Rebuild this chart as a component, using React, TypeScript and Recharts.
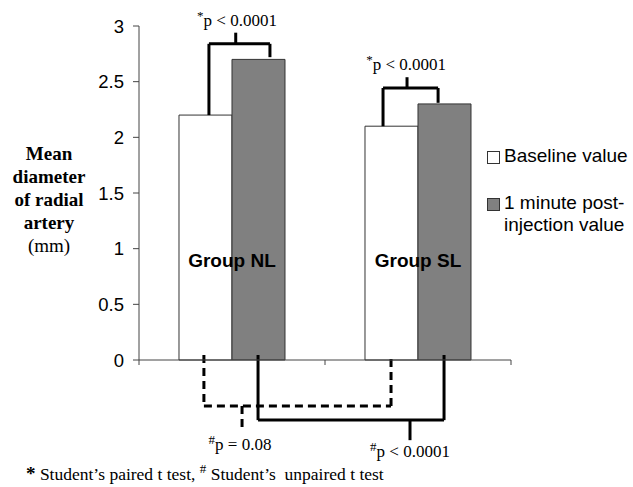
import React from 'react';
import { BarChart, Bar, XAxis, YAxis, Legend, ReferenceLine, ReferenceDot } from 'recharts';

const groups = ['NL', 'SL'];
const baselineValues = [2.2, 2.1];
const postValues = [2.7, 2.3];
const seriesNames = ['Baseline value', '1 minute post-injection value'];
const yTicks = [0, 0.5, 1, 1.5, 2, 2.5, 3];
const pLabels = ['p < 0.0001', 'p < 0.0001', 'p = 0.08', 'p < 0.0001'];

// groups sit at the middle of unit-wide slots on a 0..2 numeric axis
const data = groups.map((g, i) => ({ group: g, pos: i + 0.5, baseline: baselineValues[i], post: postValues[i] }));

// bracket geometry in data units
type Bracket = { x1: number; x2: number; y1: number; y2: number; top: number; mid: number; tick: number; dashed?: boolean; label: string; sym: string; lx: number; ly: number };
const brackets: Bracket[] = [
  { x1: 0.376, x2: 0.704, y1: baselineValues[0], y2: 2.72, top: 2.84, mid: 0.52, tick: 2.94, label: pLabels[0], sym: '*', lx: 0.527, ly: 3.0 },
  { x1: 1.312, x2: 1.608, y1: baselineValues[1], y2: 2.31, top: 2.443, mid: 1.441, tick: 2.54, label: pLabels[1], sym: '*', lx: 1.436, ly: 2.605 },
  { x1: 0.349, x2: 1.355, y1: 0.045, y2: 0.045, top: -0.413, mid: 0.554, tick: -0.647, dashed: true, label: pLabels[2], sym: '#', lx: 0.543, ly: -0.808 },
  { x1: 0.64, x2: 1.64, y1: 0.045, y2: 0.045, top: -0.54, mid: 1.457, tick: -0.72, label: pLabels[3], sym: '#', lx: 1.457, ly: -0.871 },
];

const serif = '"Liberation Serif", "Times New Roman", serif';
const sans = '"Liberation Sans", Arial, sans-serif';

const renderLegend = () => (
  <div style={{ fontFamily: sans, fontSize: 19, color: '#000', lineHeight: '22px' }}>
    {seriesNames.map((name, i) => (
      <div key={name} style={{ display: 'flex', alignItems: 'flex-start', marginBottom: 25 }}>
        <span style={{ display: 'inline-block', width: 11, height: 11, border: '1px solid #333', background: i === 0 ? '#fff' : '#808080', marginTop: 6, marginRight: 4, flexShrink: 0 }} />
        <span style={{ width: 128 }}>{name}</span>
      </div>
    ))}
  </div>
);

export default function App() {
  return (
    <div style={{ position: 'absolute', left: 0, top: 0, width: 633, height: 487, background: '#fff' }}>
      <BarChart width={633} height={487} data={data} margin={{ top: 26, right: 122, bottom: 97, left: 79 }} barCategoryGap="21.5%" barGap={0}>
        <XAxis dataKey="pos" type="number" domain={[0, 2]} ticks={[0, 1, 2]} height={30} tickSize={5} tickFormatter={() => ''} stroke="#444" allowDataOverflow />
        <YAxis domain={[0, 3]} ticks={yTicks} width={60} tickSize={6} tickMargin={9} stroke="#444" tick={{ fill: '#000', fontSize: 18.5, fontFamily: sans }} />
        <Legend layout="vertical" align="center" verticalAlign="middle" content={renderLegend} wrapperStyle={{ left: 487, top: 145, width: 146 }} />
        <Bar dataKey="baseline" name={seriesNames[0]} fill="#fff" stroke="#333" strokeWidth={1} isAnimationActive={false} />
        <Bar dataKey="post" name={seriesNames[1]} fill="#808080" stroke="#333" strokeWidth={1} isAnimationActive={false} />
        {data.map((d) => (
          <ReferenceDot key={'lbl' + d.group} x={d.pos} y={0.835} r={0} ifOverflow="visible"
            shape={(p: any) => (
              <text x={p.cx} y={p.cy} textAnchor="middle" fontFamily={sans} fontWeight="bold" fontSize={19} fill="#000">{'Group ' + d.group}</text>
            )} />
        ))}
        {brackets.flatMap((b, i) => {
          const segs = [
            [{ x: b.x1, y: b.y1 }, { x: b.x1, y: b.top }],
            [{ x: b.x1, y: b.top }, { x: b.x2, y: b.top }],
            [{ x: b.x2, y: b.top }, { x: b.x2, y: b.y2 }],
            [{ x: b.mid, y: b.top }, { x: b.mid, y: b.tick }],
          ];
          return segs.map((s, j) => (
            <ReferenceLine key={`br${i}-${j}`} segment={s} ifOverflow="visible" stroke="#000" strokeWidth={3}
              strokeDasharray={b.dashed ? '8 5' : undefined} />
          ));
        })}
        {brackets.map((b, i) => (
          <ReferenceDot key={'pl' + i} x={b.lx} y={b.ly} r={0} ifOverflow="visible"
            shape={(p: any) => (
              <text x={p.cx} y={p.cy} textAnchor="middle" fontFamily={serif} fontSize={17} fill="#000">
                <tspan fontSize={13} dy={-6}>{b.sym}</tspan>
                <tspan dy={6}>{b.label}</tspan>
              </text>
            )} />
        ))}
      </BarChart>
      <div style={{ position: 'absolute', left: 0, top: 142, width: 98, textAlign: 'center', fontFamily: serif, fontSize: 19, lineHeight: '23px', color: '#000' }}>
        <div style={{ fontWeight: 'bold' }}>Mean</div>
        <div style={{ fontWeight: 'bold' }}>diameter</div>
        <div style={{ fontWeight: 'bold' }}>of radial</div>
        <div style={{ fontWeight: 'bold' }}>artery</div>
        <div>(mm)</div>
      </div>
      <div style={{ position: 'absolute', left: 26, top: 465, fontFamily: serif, fontSize: 17.5, lineHeight: '18px', color: '#000', whiteSpace: 'pre' }}>
        <span style={{ fontWeight: 'bold', fontSize: 19 }}>*</span> Student’s paired t test, <sup style={{ fontSize: 13, lineHeight: 0 }}>#</sup> Student’s  unpaired t test
      </div>
    </div>
  );
}
